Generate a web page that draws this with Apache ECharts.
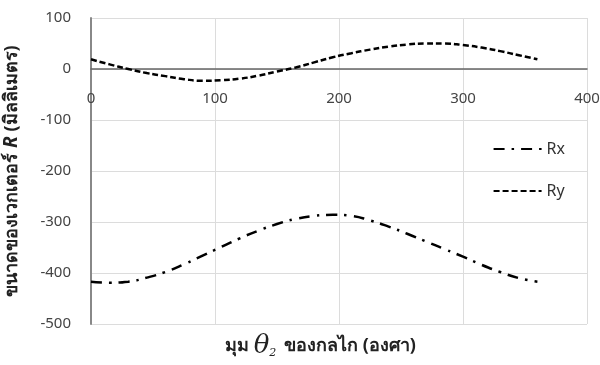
<!DOCTYPE html>
<html>
<head>
<meta charset="utf-8">
<script src="https://cdn.jsdelivr.net/npm/echarts@6/dist/echarts.min.js"></script>
<style>html,body{margin:0;padding:0;background:#fff}#c{width:600px;height:365px}</style>
</head>
<body>
<div id="c"></div>
<script>
var theta = [0, 15, 30, 45, 60, 75, 90, 105, 120, 135, 150, 165, 180, 195, 210, 225, 240, 255, 270, 285, 300, 315, 330, 345, 360];
var rx = [-417, -419, -417, -409, -398, -383, -366, -349, -332, -317, -304, -294, -288, -286, -288, -297, -309, -323, -338, -353, -368, -384, -398, -410, -417];
var ry = [19, 9, 0, -8, -14, -20, -23, -22, -19, -13, -5, 3, 13, 23, 31, 38, 44, 48, 50, 50, 47, 42, 35, 27, 19];
var xTicks = { min: 0, max: 400, interval: 100 };
var yTicks = { min: -500, max: 100, interval: 100 };

function pairs(xs, ys) { return xs.map(function (x, i) { return [x, ys[i]]; }); }

var font = '"Noto Sans", "Open Sans", "DejaVu Sans", sans-serif';
var chart = echarts.init(document.getElementById('c'));
chart.setOption({
  backgroundColor: '#fff',
  animation: false,
  grid: { left: 91, right: 13, top: 18, bottom: 41, containLabel: false, outerBoundsMode: 'none' },
  legend: {
    orient: 'vertical', right: 30, top: 136, itemWidth: 48, itemHeight: 14, itemGap: 26,
    textStyle: { fontSize: 16, color: '#333', fontFamily: font },
    itemStyle: { opacity: 0 },
    data: ['Rx', 'Ry']
  },
  xAxis: [{
    type: 'value', min: xTicks.min, max: xTicks.max, interval: xTicks.interval,
    axisLine: { show: false },
    axisTick: { show: false },
    axisLabel: { show: false },
    splitLine: { show: true, lineStyle: { color: '#dcdcdc', width: 1 } }
  }, {
    type: 'value', min: xTicks.min, max: xTicks.max, interval: xTicks.interval,
    position: 'bottom', offset: -255,
    axisLine: { show: true, onZero: false, lineStyle: { color: '#666', width: 1.5 } },
    axisTick: { show: false },
    axisLabel: { fontSize: 15, color: '#444', margin: 22, fontFamily: font },
    splitLine: { show: false }
  }],
  yAxis: {
    type: 'value', min: yTicks.min, max: yTicks.max, interval: yTicks.interval,
    name: 'ขนาดของเวกเตอร์ {i|R} (มิลลิเมตร)',
    nameLocation: 'middle', nameGap: 70, nameRotate: 90,
    nameTextStyle: {
      fontSize: 18, color: '#222', fontWeight: 'bold', fontFamily: font,
      rich: { i: { fontSize: 19, fontStyle: 'italic', fontWeight: 'bold', color: '#222', fontFamily: font } }
    },
    axisLine: { show: true, lineStyle: { color: '#888', width: 2 } },
    axisTick: { show: false },
    axisLabel: { fontSize: 15, color: '#444', margin: 20, fontFamily: font },
    splitLine: { show: true, lineStyle: { color: '#dcdcdc', width: 1 } }
  },
  graphic: [{
    type: 'text', left: 225, top: 333,
    style: {
      text: 'มุม {t|θ}{s|2} ของกลไก (องศา)',
      font: 'bold 18px ' + font, fill: '#222',
      rich: {
        t: { fontSize: 26, fontStyle: 'italic', fontFamily: '"DejaVu Serif", "Liberation Serif", serif', fill: '#222', fontWeight: 'normal' },
        s: { fontSize: 11, fontStyle: 'italic', fontFamily: '"DejaVu Serif", serif', fill: '#222', verticalAlign: 'bottom', padding: [8, 3, 0, 0] }
      }
    }
  }],
  series: [
    {
      name: 'Rx', type: 'line', smooth: true, symbol: 'none', xAxisIndex: 0,
      data: pairs(theta, rx),
      lineStyle: { color: '#000', width: 2.5, type: [11, 7, 2.5, 7] },
      itemStyle: { color: '#000' }
    },
    {
      name: 'Ry', type: 'line', smooth: true, symbol: 'none', xAxisIndex: 0,
      data: pairs(theta, ry),
      lineStyle: { color: '#000', width: 2.5, type: [6, 3] },
      itemStyle: { color: '#000' }
    }
  ]
});
</script>
</body>
</html>
